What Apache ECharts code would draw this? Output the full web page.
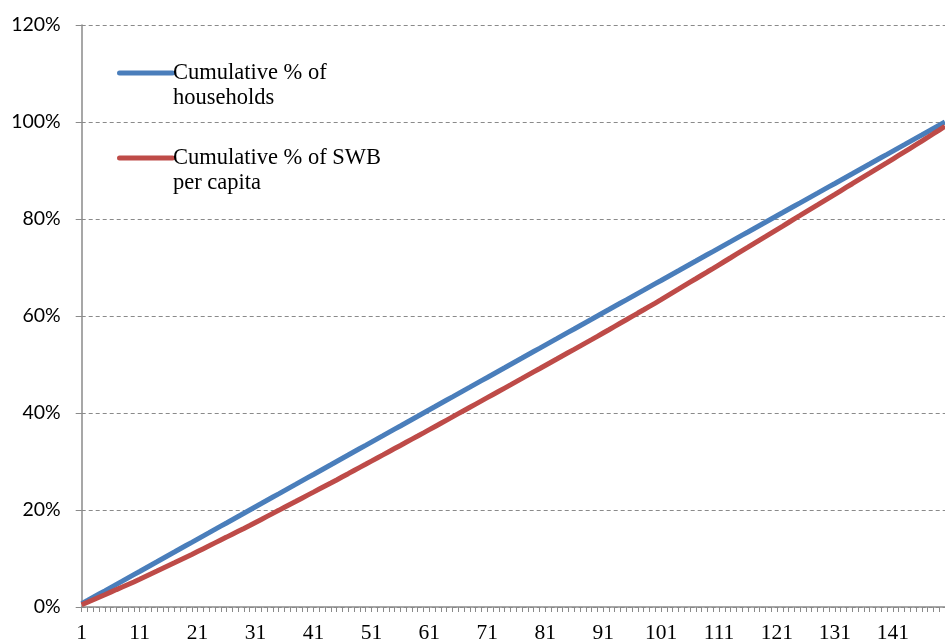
<!DOCTYPE html>
<html>
<head>
<meta charset="utf-8">
<script src="https://cdn.jsdelivr.net/npm/echarts@6/dist/echarts.min.js"></script>
<style>
html,body{margin:0;padding:0;background:#fff;}
#chart{width:945px;height:644px;}
</style>
</head>
<body>
<div id="chart"></div>
<script>
// Categories 1..150
var categories = [];
for (var i = 1; i <= 150; i++) categories.push(String(i));

var yTicks = [0, 20, 40, 60, 80, 100, 120];

var seriesNames = ['Cumulative % of households', 'Cumulative % of SWB per capita'];
var legendLines = [['Cumulative % of', 'households'], ['Cumulative % of SWB', 'per capita']];

// Cumulative % of households
var households = [
0.67,1.33,2.00,2.67,3.33,4.00,4.67,5.33,6.00,6.67,
7.33,8.00,8.67,9.33,10.00,10.67,11.33,12.00,12.67,13.33,
14.00,14.67,15.33,16.00,16.67,17.33,18.00,18.67,19.33,20.00,
20.67,21.33,22.00,22.67,23.33,24.00,24.67,25.33,26.00,26.67,
27.33,28.00,28.67,29.33,30.00,30.67,31.33,32.00,32.67,33.33,
34.00,34.67,35.33,36.00,36.67,37.33,38.00,38.67,39.33,40.00,
40.67,41.33,42.00,42.67,43.33,44.00,44.67,45.33,46.00,46.67,
47.33,48.00,48.67,49.33,50.00,50.67,51.33,52.00,52.67,53.33,
54.00,54.67,55.33,56.00,56.67,57.33,58.00,58.67,59.33,60.00,
60.67,61.33,62.00,62.67,63.33,64.00,64.67,65.33,66.00,66.67,
67.33,68.00,68.67,69.33,70.00,70.67,71.33,72.00,72.67,73.33,
74.00,74.67,75.33,76.00,76.67,77.33,78.00,78.67,79.33,80.00,
80.67,81.33,82.00,82.67,83.33,84.00,84.67,85.33,86.00,86.67,
87.33,88.00,88.67,89.33,90.00,90.67,91.33,92.00,92.67,93.33,
94.00,94.67,95.33,96.00,96.67,97.33,98.00,98.67,99.33,100.00
];

// Cumulative % of SWB per capita
var swb = [
0.47,0.98,1.50,2.02,2.53,3.06,3.59,4.11,4.64,5.17,
5.73,6.30,6.87,7.43,8.00,8.57,9.13,9.70,10.27,10.83,
11.43,12.03,12.62,13.22,13.82,14.41,15.01,15.61,16.20,16.80,
17.43,18.05,18.68,19.31,19.93,20.56,21.19,21.81,22.44,23.07,
23.69,24.32,24.95,25.57,26.20,26.85,27.49,28.14,28.79,29.43,
30.08,30.73,31.37,32.02,32.67,33.31,33.96,34.61,35.25,35.90,
36.56,37.22,37.88,38.54,39.20,39.86,40.52,41.18,41.84,42.50,
43.16,43.82,44.48,45.14,45.80,46.47,47.13,47.80,48.47,49.13,
49.80,50.47,51.13,51.80,52.47,53.13,53.80,54.47,55.13,55.80,
56.49,57.17,57.86,58.55,59.23,59.92,60.61,61.29,61.98,62.67,
63.38,64.10,64.82,65.53,66.25,66.97,67.68,68.40,69.12,69.83,
70.56,71.29,72.01,72.74,73.47,74.19,74.92,75.65,76.37,77.10,
77.83,78.55,79.28,80.01,80.73,81.46,82.19,82.91,83.64,84.37,
85.09,85.82,86.55,87.27,88.00,88.73,89.45,90.18,90.91,91.63,
92.37,93.11,93.84,94.58,95.32,96.07,96.82,97.58,98.33,99.10
];

var colors = ['#4A7EBB', '#BE4B48'];

var chart = echarts.init(document.getElementById('chart'), null, {renderer: 'canvas'});

var legendY = [73, 158];
var graphic = [];
for (var s = 0; s < 2; s++) {
  graphic.push({
    type: 'line', left: 117, top: legendY[s] - 2.5, z: 100,
    shape: {x1: 0, y1: 0, x2: 53, y2: 0},
    style: {stroke: colors[s], lineWidth: 5, lineCap: 'round'}
  });
  for (var l = 0; l < legendLines[s].length; l++) {
    graphic.push({
      type: 'text', z: 100,
      x: 173, y: legendY[s] + l * 25.5,
      style: {
        text: legendLines[s][l],
        font: '22.5px "Liberation Serif", "Times New Roman", serif',
        fill: '#000', verticalAlign: 'middle', align: 'left'
      }
    });
  }
}

chart.setOption({
  animation: false,
  backgroundColor: '#fff',
  grid: {left: 81.7, top: 25, width: 868.7, height: 584.5, containLabel: false},
  xAxis: {
    type: 'category',
    data: categories,
    boundaryGap: false,
    axisLine: {lineStyle: {color: '#8a8a8a', width: 1.5}},
    axisTick: {show: true, interval: 0, length: 5, lineStyle: {color: '#8a8a8a', width: 1}},
    axisLabel: {
      interval: 9, margin: 15, color: '#000',
      fontFamily: '"Liberation Serif", "Times New Roman", serif', fontSize: 21.5
    },
    splitLine: {show: false}
  },
  yAxis: {
    type: 'value',
    min: yTicks[0], max: yTicks[yTicks.length - 1], interval: 20,
    axisLine: {show: true, lineStyle: {color: '#8a8a8a', width: 1.5}},
    axisTick: {show: true, length: 6, lineStyle: {color: '#8a8a8a'}},
    axisLabel: {
      formatter: '{value}%', margin: 21, color: '#000',
      fontFamily: 'Lato, "Open Sans", sans-serif', fontSize: 19.5
    },
    splitLine: {show: true, lineStyle: {color: '#8a8a8a', type: [4, 3], width: 1}}
  },
  series: [
    {name: seriesNames[0], type: 'line', data: households, symbol: 'none',
     lineStyle: {color: colors[0], width: 5}, itemStyle: {color: colors[0]}, z: 3},
    {name: seriesNames[1], type: 'line', data: swb, symbol: 'none',
     lineStyle: {color: colors[1], width: 5}, itemStyle: {color: colors[1]}, z: 4}
  ],
  graphic: graphic
});
</script>
</body>
</html>
